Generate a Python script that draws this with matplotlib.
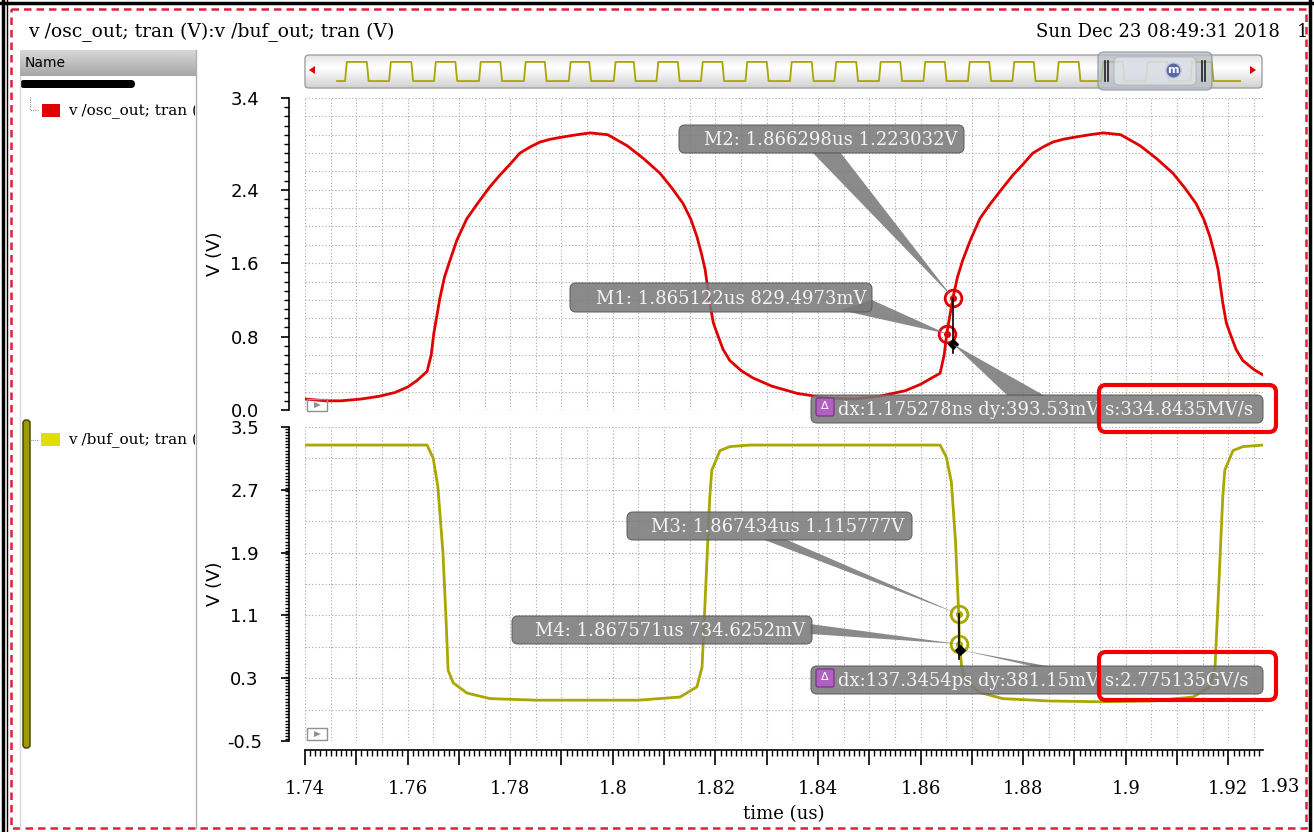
import numpy as np
import matplotlib
matplotlib.use("Agg")
import matplotlib.pyplot as plt
from matplotlib.patches import FancyBboxPatch, Rectangle, Polygon
from matplotlib.ticker import FixedLocator, MultipleLocator

osc_t = [1.7400, 1.7440, 1.7470, 1.7510, 1.7545, 1.7575, 1.7600, 1.7618, 1.7630,
         1.7638, 1.7646, 1.7651, 1.7663, 1.7672, 1.7682, 1.7696, 1.7715, 1.7735,
         1.7760, 1.7780, 1.7800, 1.7819, 1.7840, 1.7858, 1.7878, 1.7897, 1.7930,
         1.7956, 1.7990, 1.8028,
         1.8060, 1.8092, 1.8115, 1.8137, 1.8152, 1.8164, 1.8173, 1.8180, 1.8189,
         1.8196, 1.8203, 1.8215, 1.8228, 1.8250, 1.8273, 1.8310, 1.8360, 1.8420,
         1.8470, 1.8520, 1.8570, 1.8600, 1.8625, 1.8638, 1.8646, 1.8651, 1.8663,
         1.8672, 1.8682, 1.8697, 1.8716, 1.8735, 1.8760, 1.8780, 1.8800, 1.8819,
         1.8840, 1.8858, 1.8878, 1.8897, 1.8930, 1.8956, 1.8990, 1.9028, 1.9060,
         1.9092, 1.9115, 1.9137,
         1.9152, 1.9164, 1.9173, 1.9180, 1.9189, 1.9196, 1.9203, 1.9215, 1.9228,
         1.9250, 1.9268]
osc_v = [0.12, 0.10, 0.10, 0.12, 0.15, 0.19, 0.25, 0.32, 0.38,
         0.42, 0.60, 0.83, 1.22, 1.45, 1.62, 1.85, 2.08, 2.24,
         2.43, 2.56, 2.68, 2.80, 2.87, 2.92, 2.95, 2.97, 3.00,
         3.02, 3.00, 2.88,
         2.74, 2.58, 2.42, 2.25, 2.08, 1.89, 1.70, 1.53, 1.17,
         0.95, 0.84, 0.66, 0.54, 0.43, 0.35, 0.26, 0.18, 0.13,
         0.12, 0.15, 0.21, 0.28, 0.36, 0.40, 0.60, 0.83, 1.22,
         1.45, 1.63, 1.85, 2.09, 2.24, 2.42, 2.56, 2.68, 2.80,
         2.87, 2.92, 2.95, 2.97, 3.00, 3.02, 3.00, 2.88, 2.74,
         2.58, 2.42, 2.25,
         2.08, 1.89, 1.70, 1.53, 1.17, 0.95, 0.84, 0.66, 0.54,
         0.44, 0.38]

buf_t = [1.7400, 1.7638, 1.7650, 1.7659, 1.7669, 1.7675, 1.7679, 1.7689, 1.7716,
         1.7761, 1.7850, 1.7950, 1.8050, 1.8131, 1.8164, 1.8174, 1.8180, 1.8189,
         1.8193, 1.8209, 1.8228, 1.8267, 1.8400, 1.8638, 1.8650, 1.8660, 1.8668,
         1.867434, 1.867571, 1.8680, 1.8688, 1.8715, 1.8760, 1.8850, 1.8950,
         1.9050, 1.9131, 1.9164, 1.9174, 1.9180, 1.9189, 1.9193, 1.9209, 1.9228,
         1.9268]
buf_v = [3.27, 3.27, 3.10, 2.74, 1.89, 1.04, 0.40, 0.24, 0.11,
         0.04, 0.02, 0.02, 0.02, 0.06, 0.19, 0.44, 1.29, 2.60,
         2.95, 3.20, 3.25, 3.27, 3.27, 3.27, 3.12, 2.80, 2.05,
         1.116, 0.735, 0.45, 0.26, 0.12, 0.04, 0.01, 0.00,
         0.01, 0.06, 0.19, 0.44, 1.29, 2.60, 2.95, 3.20, 3.25,
         3.27]

# markers (time us, value V)
osc_mark_t = [1.865122, 1.866298]
osc_mark_v = [0.8294973, 1.223032]
buf_mark_t = [1.867434, 1.867571]
buf_mark_v = [1.115777, 0.7346252]

x_tick_vals = [1.74, 1.75, 1.76, 1.77, 1.78, 1.79, 1.80, 1.81, 1.82, 1.83,
               1.84, 1.85, 1.86, 1.87, 1.88, 1.89, 1.90, 1.91, 1.92]
x_tick_text = ["1.74", "", "1.76", "", "1.78", "", "1.8", "", "1.82", "",
               "1.84", "", "1.86", "", "1.88", "", "1.9", "", "1.92"]
x_end_val, x_end_text = 1.93, "1.93"
top_y_ticks = [0.0, 0.8, 1.6, 2.4, 3.4]
top_y_text = ["0.0", "0.8", "1.6", "2.4", "3.4"]
bot_y_ticks = [-0.5, 0.3, 1.1, 1.9, 2.7, 3.5]
bot_y_text = ["-0.5", "0.3", "1.1", "1.9", "2.7", "3.5"]

# overview strip: buf_out edges over the whole run (us)
ov_rise = [0.018, 0.117, 0.218, 0.319, 0.420, 0.521, 0.622, 0.718, 0.818, 0.918,
           1.018, 1.118, 1.218, 1.318, 1.418, 1.518, 1.618, 1.718, 1.818, 1.918]
ov_fall = [0.067, 0.167, 0.266, 0.367, 0.467, 0.567, 0.667, 0.766, 0.866, 0.966,
           1.067, 1.167, 1.266, 1.366, 1.466, 1.566, 1.667, 1.766, 1.866, 1.966]

labels = {
    "title": "v /osc_out; tran (V):v /buf_out; tran (V)",
    "date": "Sun Dec 23 08:49:31 2018",
    "M1": "M1: 1.865122us 829.4973mV",
    "M2": "M2: 1.866298us 1.223032V",
    "M3": "M3: 1.867434us 1.115777V",
    "M4": "M4: 1.867571us 734.6252mV",
    "d_top": "dx:1.175278ns dy:393.53mV s:334.8435MV/s",
    "d_bot": "dx:137.3454ps dy:381.15mV s:2.775135GV/s",
    "sig1": "v /osc_out; tran (V)",
    "sig2": "v /buf_out; tran (V)",
}

RED = "#e00000"
OLIVE = "#a8a800"
BOXC = "#7a7a7a"
W, H = 1314, 832


def rect(x0, y0, x1, y1):
    # pixel box (top-left origin) -> figure fraction
    return [x0 / W, 1 - y1 / H, (x1 - x0) / W, (y1 - y0) / H]


fig = plt.figure(figsize=(W / 100, H / 100), dpi=100)
fig.patch.set_facecolor("white")

ax_top = fig.add_axes(rect(305, 98, 1263, 410))
ax_bot = fig.add_axes(rect(305, 427, 1263, 741))

for ax in (ax_top, ax_bot):
    ax.set_xlim(1.74, 1.92675)
    for s in ("top", "right", "bottom"):
        ax.spines[s].set_visible(False)
    ax.spines["left"].set_position(("outward", 11.5))
    ax.spines["left"].set_linewidth(1.2)
    ax.tick_params(axis="y", which="major", direction="out", length=6, width=1.2,
                   pad=26, labelsize=13)
    ax.tick_params(axis="y", which="minor", direction="out", length=3.5, width=1.0)
    for xg in np.arange(1.74, 1.927, 0.005):
        ax.axvline(xg, color="#a8a8a8", lw=0.8, ls=(0, (1, 2)), zorder=0)

ax_top.set_ylim(0, 3.4)
ax_top.yaxis.set_major_locator(FixedLocator(top_y_ticks))
ax_top.set_yticklabels(top_y_text, family="DejaVu Sans")
ax_top.yaxis.set_minor_locator(MultipleLocator(0.1))
for yg in np.arange(0, 3.41, 0.2):
    ax_top.axhline(yg, color="#a8a8a8", lw=0.8, ls=(0, (1, 2)), zorder=0)
ax_top.set_xticks([])

ax_bot.set_ylim(-0.5, 3.5)
ax_bot.yaxis.set_major_locator(FixedLocator(bot_y_ticks))
ax_bot.set_yticklabels(bot_y_text, family="DejaVu Sans")
ax_bot.yaxis.set_minor_locator(MultipleLocator(0.04))
ax_bot.tick_params(axis="y", which="minor", length=3)
for yg in np.arange(-0.5, 3.51, 0.4):
    ax_bot.axhline(yg, color="#a8a8a8", lw=0.8, ls=(0, (1, 2)), zorder=0)

ax_bot.spines["bottom"].set_visible(True)
ax_bot.spines["bottom"].set_position(("outward", 6.5))
ax_bot.spines["bottom"].set_linewidth(1.2)
ax_bot.xaxis.set_major_locator(FixedLocator(x_tick_vals))
ax_bot.set_xticklabels(x_tick_text, family="DejaVu Serif")
ax_bot.xaxis.set_minor_locator(MultipleLocator(0.001))
ax_bot.tick_params(axis="x", which="major", direction="out", length=10.5, width=1.2,
                   pad=11, labelsize=13)
ax_bot.tick_params(axis="x", which="minor", direction="out", length=4, width=1.0)
ax_bot.set_xlabel("time (us)", family="DejaVu Serif", fontsize=13, labelpad=5)

for ax in (ax_top, ax_bot):
    for tl in ax.get_yticklabels():
        tl.set_horizontalalignment("center")
    ax.set_ylabel("V (V)", family="DejaVu Sans", fontsize=13)
    ax.yaxis.set_label_coords(-0.085, 0.5)

ax_top.plot(osc_t, osc_v, color=RED, lw=2, zorder=3)
ax_bot.plot(buf_t, buf_v, color=OLIVE, lw=2, zorder=3)

# marker circles
for ax, mt, mv, col in ((ax_top, osc_mark_t, osc_mark_v, RED),
                        (ax_bot, buf_mark_t, buf_mark_v, OLIVE)):
    ax.plot(mt, mv, "o", mfc="none", mec=col, ms=12, mew=2, zorder=5, clip_on=False)
    ax.plot(mt, mv, "o", color=col, ms=4, zorder=6)

# black delta reference lines/markers
ax_top.plot([osc_mark_t[1], osc_mark_t[1]], [osc_mark_v[1], 0.62], color="black", lw=1.2, zorder=6)
ax_top.plot([osc_mark_t[1]], [0.72], marker=(4, 0, 0), ms=7, color="black", zorder=7)
ax_bot.plot([buf_mark_t[0], buf_mark_t[0]], [buf_mark_v[0], 0.55], color="black", lw=1.2, zorder=6)
ax_bot.plot([buf_mark_t[1] + 0.0002], [0.66], marker=(4, 0, 0), ms=7, color="black", zorder=7)

# ---------- overview strip ----------
ax_ov = fig.add_axes(rect(305, 55, 1262, 88))
ax_ov.set_xlim(-0.072, 2.079)
ax_ov.set_ylim(-0.36, 1.36)
ax_ov.axis("off")
grad = np.concatenate([np.linspace(0.90, 1.0, 12), np.linspace(1.0, 0.82, 20)])
ax_ov.imshow(grad[:, None], cmap="gray", vmin=0, vmax=1, aspect="auto",
             extent=(-0.072, 2.079, -0.36, 1.36), zorder=0)
wx, wy = [0.0], [0.0]
for r, f in zip(ov_rise, ov_fall):
    wx += [r, r + 0.004, f, f + 0.004]
    wy += [0.0, 1.0, 1.0, 0.0]
wx.append(2.03)
wy.append(0.0)
ax_ov.plot(wx, wy, color=OLIVE, lw=1.3, zorder=2)

# ---------- left name panel ----------
name_ax = fig.add_axes(rect(20, 50, 196, 76), zorder=5)
name_ax.imshow(np.linspace(0.84, 0.66, 20)[:, None], cmap="gray", vmin=0, vmax=1,
               aspect="auto", extent=(0, 1, 0, 1))
name_ax.axis("off")
name_ax.text(0.025, 0.5, "Name", fontsize=10, family="DejaVu Sans", va="center",
             transform=name_ax.transAxes)

panel = fig.add_axes(rect(20, 90, 195, 500), zorder=5)
panel.set_xlim(20, 195)
panel.set_ylim(500, 90)
panel.axis("off")
panel.text(68, 111, labels["sig1"], fontsize=11, family="DejaVu Serif",
           va="center", clip_on=True)
panel.text(68, 440, labels["sig2"], fontsize=11, family="DejaVu Serif",
           va="center", clip_on=True)

# ---------- overlay in pixel coordinates ----------
ov = fig.add_axes([0, 0, 1, 1], zorder=20)
ov.set_xlim(0, W)
ov.set_ylim(H, 0)
ov.axis("off")
ov.patch.set_alpha(0)


def to_px(ax, t, v):
    X, Y = ax.transData.transform((t, v))
    return X, H - Y


def rbox(x0, y0, x1, y1, fc, ec="none", lw=1.0, r=5, alpha=1.0, z=1):
    p = FancyBboxPatch((x0, y0), x1 - x0, y1 - y0,
                       boxstyle=f"round,pad=0,rounding_size={r}",
                       fc=fc, ec=ec, lw=lw, alpha=alpha, zorder=z)
    ov.add_patch(p)
    return p


# window borders
ov.plot([3, 3], [0, H], color="black", lw=2.5)
ov.plot([7, 7], [0, H], color="black", lw=1)
ov.plot([0, W], [3, 3], color="black", lw=2.5)
ov.plot([1310, 1310], [0, H], color="black", lw=2.5)
ov.add_patch(Rectangle((11, 9), 1295, 819, fill=False, ec="#e0203c", lw=1.8,
                       ls=(0, (3, 2))))

ov.text(28, 32, labels["title"], fontsize=13.5, family="DejaVu Serif", va="center")
ov.text(1280, 32, labels["date"], fontsize=13, family="DejaVu Serif",
        va="center", ha="right")
ov.text(1297, 32, "1", fontsize=13, family="DejaVu Serif", va="center")

ov.plot([196, 196], [50, 828], color="#b0b0b0", lw=1)
ov.plot([20, 20], [76, 828], color="#d8d8d8", lw=1)
rbox(20, 80, 135, 88, "black", r=4)
ov.plot([30, 30, 38], [97, 110, 110], color="#909090", lw=0.8, ls=(0, (1, 1)))
ov.add_patch(Rectangle((42, 104), 18, 13, fc=RED, ec="none"))
ov.plot([30, 38], [440, 440], color="#909090", lw=0.8, ls=(0, (1, 1)))
ov.add_patch(Rectangle((41, 433), 19, 13, fc="#e0e000", ec="none"))
rbox(23, 420, 30, 748, "#9c9c00", ec="#3c3c00", lw=1, r=3)

# overview frame, arrows, slider
rbox(305, 55, 1262, 88, "none", ec="#a0a0a0", lw=1, r=4, z=3)
ov.add_patch(Polygon([[309, 70], [315, 66], [315, 74]], closed=True, fc=RED, ec="none"))
ov.add_patch(Polygon([[1256, 70], [1250, 66], [1250, 74]], closed=True, fc=RED, ec="none"))
rbox(1098, 52, 1212, 90, "#b8bec8", ec="#8a909a", lw=1, r=6, alpha=0.75, z=4)
rbox(1114, 57, 1196, 85, "#eef0f4", ec="#a0a6b0", lw=0.8, r=5, alpha=0.55, z=5)
for xb in (1105, 1108, 1202, 1205):
    ov.plot([xb, xb], [61, 81], color="#202020", lw=1.2, zorder=6)
ov.scatter([1173], [70], s=120, color="#5a68a8", edgecolor="#c0c8e0", zorder=7)
ov.text(1173, 70, "m", color="white", fontsize=8, ha="center", va="center",
        fontweight="bold", zorder=8)

# small play boxes in the plots
for y0 in (399, 728):
    ov.add_patch(Rectangle((307, y0), 20, 12, fill=False, ec="#909090", lw=1))
    ov.add_patch(Polygon([[314, y0 + 3], [314, y0 + 9], [321, y0 + 6]], closed=True,
                         fc="#909090", ec="none"))

fig.canvas.draw()

# last time label sits past the end of the axis
xe, _ = to_px(ax_bot, x_end_val, 0)
ov.text(xe, 787, x_end_text, ha="center", va="center", fontsize=13,
        family="DejaVu Serif")


def callout(text, x0, y0, x1, y1, tx, base, apex):
    ov.add_patch(Polygon(base + [apex], closed=True, fc=BOXC, ec="none",
                         alpha=0.88, zorder=8))
    rbox(x0, y0, x1, y1, BOXC, ec="#5a5a5a", lw=0.8, r=6, alpha=0.88, z=9)
    ov.text(tx, (y0 + y1) / 2 + 1, text, color="#f4f4f4", fontsize=13,
            family="DejaVu Serif", va="center", ha="right", zorder=10)


m1 = to_px(ax_top, osc_mark_t[0], osc_mark_v[0])
m2 = to_px(ax_top, osc_mark_t[1], osc_mark_v[1])
m3 = to_px(ax_bot, buf_mark_t[0], buf_mark_v[0])
m4 = to_px(ax_bot, buf_mark_t[1], buf_mark_v[1])
d1 = to_px(ax_top, osc_mark_t[1], 0.72)
d2 = to_px(ax_bot, buf_mark_t[1] + 0.0002, 0.66)

callout(labels["M2"], 679, 125, 964, 153, 958, [[812, 152], [840, 152]], m2)
callout(labels["M1"], 570, 283, 872, 312, 866, [[840, 310], [872, 300]], m1)
callout(labels["M3"], 627, 512, 912, 540, 904, [[762, 539], [785, 539]], m3)
callout(labels["M4"], 512, 616, 812, 644, 805, [[810, 624], [810, 634]], m4)


def delta_box(text, y0, y1, base, apex):
    ov.add_patch(Polygon(base + [apex], closed=True, fc=BOXC, ec="none",
                         alpha=0.88, zorder=8))
    rbox(811, y0, 1263, y1, BOXC, ec="#5a5a5a", lw=0.8, r=6, alpha=0.88, z=9)
    ov.add_patch(FancyBboxPatch((816, y0 + 3), 18, 18,
                                boxstyle="round,pad=0,rounding_size=2",
                                fc="#b060c0", ec="#703080", lw=0.8, zorder=10))
    ov.text(825, y0 + 11, "Δ", color="white", fontsize=8, ha="center", va="center",
            family="DejaVu Sans", zorder=11)
    ov.text(838, (y0 + y1) / 2 + 1, text, color="#f4f4f4", fontsize=13,
            family="DejaVu Serif", va="center", ha="left", zorder=10)


delta_box(labels["d_top"], 395, 423, [[1008, 396], [1045, 396]], d1)
delta_box(labels["d_bot"], 666, 694, [[1036, 667], [1052, 667]], d2)

# red highlight frames
rbox(1099, 385, 1276, 432, "none", ec="#f00000", lw=3, r=7, z=12)
rbox(1099, 652, 1276, 700, "none", ec="#f00000", lw=3, r=7, z=12)

fig.savefig("out.png", dpi=100)
